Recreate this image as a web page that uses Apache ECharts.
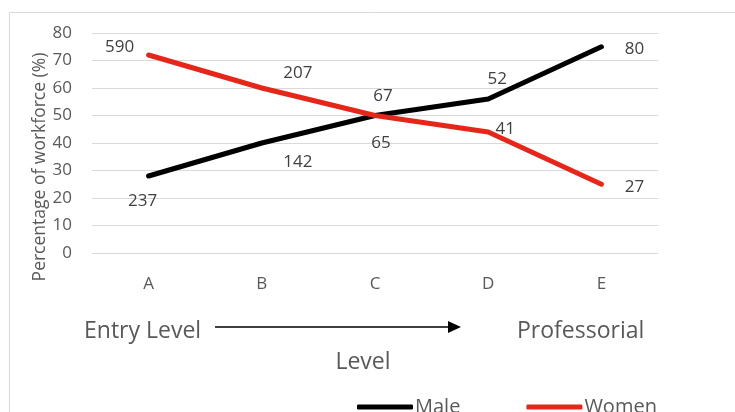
<!DOCTYPE html>
<html>
<head>
<meta charset="utf-8">
<script src="https://cdn.jsdelivr.net/npm/echarts@6/dist/echarts.min.js"></script>
<style>
  html, body { margin: 0; padding: 0; background: #fff; }
  #chart { width: 735px; height: 412px; }
</style>
</head>
<body>
<div id="chart"></div>
<script>
// Workforce share by career level
const levels = ['A', 'B', 'C', 'D', 'E'];
const malePct = [28, 40, 50, 56, 75];
const womenPct = [72, 60, 50, 44, 25];
// Headcounts printed beside each point
const maleCounts = ['237', '142', '67', '52', '80'];
const womenCounts = ['590', '207', '65', '41', '27'];
const yTicks = [0, 10, 20, 30, 40, 50, 60, 70, 80];

// Label offsets (px) relative to each point
const maleOffsets = [[-6, 25], [36, 19], [8, -19], [9, -20], [33, 2]];
const womenOffsets = [[-29, -8], [36, -15], [6, 28], [17, -3], [33, 3]];

const FONT = '"Open Sans", "Liberation Sans", sans-serif';
const TXT = '#595959';

function pointData(values, counts, offsets) {
  return values.map((v, i) => ({
    value: v,
    label: {
      show: true,
      formatter: counts[i],
      position: 'inside',
      offset: offsets[i],
      color: '#404040',
      fontSize: 17,
      fontFamily: FONT
    }
  }));
}

const chart = echarts.init(document.getElementById('chart'));
chart.setOption({
  animation: false,
  grid: { left: 92, right: 77, top: 33, bottom: 159 },
  xAxis: {
    type: 'category',
    data: levels,
    boundaryGap: true,
    axisLine: { show: false },
    axisTick: { show: false },
    axisLabel: { color: TXT, fontSize: 17, fontFamily: FONT, margin: 23 }
  },
  yAxis: {
    type: 'value',
    min: yTicks[0],
    max: yTicks[yTicks.length - 1],
    interval: 10,
    axisLine: { show: false },
    axisTick: { show: false },
    splitLine: { lineStyle: { color: '#d9d9d9', width: 1 } },
    axisLabel: { color: TXT, fontSize: 17, fontFamily: FONT, margin: 20 }
  },
  legend: {
    left: 352,
    top: 392,
    itemWidth: 56,
    itemHeight: 5,
    itemGap: 66,
    icon: 'roundRect',
    textStyle: { color: TXT, fontSize: 20, fontFamily: FONT, padding: [0, 0, 0, -3] },
    data: ['Male', 'Women']
  },
  series: [
    {
      name: 'Male',
      type: 'line',
      data: pointData(malePct, maleCounts, maleOffsets),
      symbol: 'circle',
      symbolSize: 1,
      lineStyle: { color: '#000000', width: 5, cap: 'round', join: 'round' },
      itemStyle: { color: '#000000' },
      z: 3
    },
    {
      name: 'Women',
      type: 'line',
      data: pointData(womenPct, womenCounts, womenOffsets),
      symbol: 'circle',
      symbolSize: 1,
      lineStyle: { color: '#e5271b', width: 5, cap: 'round', join: 'round' },
      itemStyle: { color: '#e5271b' },
      z: 4
    }
  ],
  graphic: [
    {
      type: 'rect',
      shape: { x: 9.5, y: 12.5, width: 800, height: 500 },
      style: { fill: 'none', stroke: '#d9d9d9', lineWidth: 1 },
      silent: true
    },
    {
      type: 'text',
      x: 40, y: 167,
      rotation: Math.PI / 2,
      style: {
        text: 'Percentage of workforce (%)',
        fill: TXT, font: '17.5px ' + FONT,
        align: 'center', verticalAlign: 'middle'
      }
    },
    {
      type: 'text',
      x: 84, y: 331,
      style: {
        text: 'Entry Level', fill: TXT, font: '23px ' + FONT,
        align: 'left', verticalAlign: 'middle'
      }
    },
    {
      type: 'line',
      shape: { x1: 215, y1: 327, x2: 449, y2: 327 },
      style: { stroke: '#000', lineWidth: 1.3 }
    },
    {
      type: 'polygon',
      shape: { points: [[448, 321], [461, 327], [448, 333]] },
      style: { fill: '#000' }
    },
    {
      type: 'text',
      x: 517, y: 331,
      style: {
        text: 'Professorial', fill: TXT, font: '23px ' + FONT,
        align: 'left', verticalAlign: 'middle'
      }
    },
    {
      type: 'text',
      x: 363, y: 362,
      style: {
        text: 'Level', fill: TXT, font: '23px ' + FONT,
        align: 'center', verticalAlign: 'middle'
      }
    }
  ]
});
</script>
</body>
</html>
